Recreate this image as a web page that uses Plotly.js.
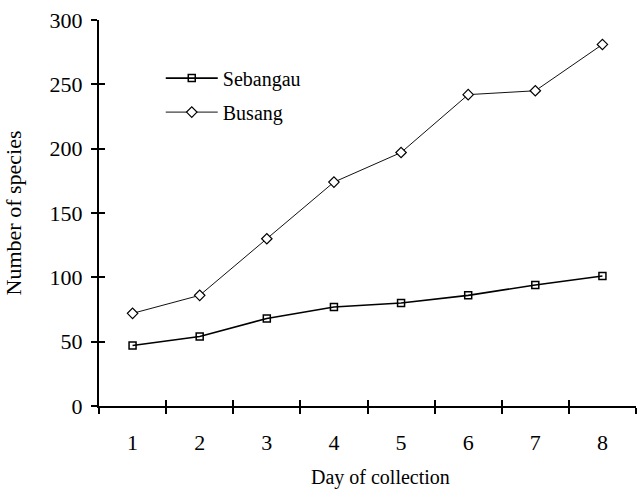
<!DOCTYPE html>
<html>
<head>
<meta charset="utf-8">
<script src="https://cdn.plot.ly/plotly-3.0.1.min.js"></script>
<style>html,body{margin:0;padding:0;background:#fff}#chart{width:639px;height:491px}</style>
</head>
<body>
<div id="chart"></div>
<script>
const days = [1, 2, 3, 4, 5, 6, 7, 8];
const sebangau = [47, 54, 68, 77, 80, 86, 94, 101];
const busang = [72, 86, 130, 174, 197, 242, 245, 281];
const yTicks = [0, 50, 100, 150, 200, 250, 300];
const xTitle = 'Day of collection';
const yTitle = 'Number of species';

const FONT = 'Liberation Serif, Times New Roman, serif';

const traces = [
  {
    x: days, y: sebangau, name: 'Sebangau', mode: 'lines+markers',
    legendgroup: 'a',
    line: {color: '#000', width: 1.6},
    marker: {symbol: 'square-open', size: 7, color: '#000', line: {width: 1.5, color: '#000'}}
  },
  {
    x: days, y: busang, name: 'Busang', mode: 'lines+markers',
    legendgroup: 'b',
    line: {color: '#111', width: 1},
    marker: {symbol: 'diamond', size: 8, color: '#fff', line: {width: 1.2, color: '#000'}}
  },
  {
    x: days, y: sebangau, xaxis: 'x2', yaxis: 'y2', showlegend: false,
    mode: 'markers', marker: {opacity: 0}, hoverinfo: 'skip'
  }
];

const layout = {
  width: 639, height: 491,
  margin: {l: 99, r: 3, t: 20, b: 85},
  paper_bgcolor: '#fff', plot_bgcolor: '#fff',
  font: {family: FONT, size: 22, color: '#000'},
  showlegend: true,
  legend: {
    x: 0.115, y: 0.9, xanchor: 'left', yanchor: 'top',
    bgcolor: 'rgba(0,0,0,0)', borderwidth: 0,
    font: {family: FONT, size: 20, color: '#000'},
    traceorder: 'grouped', tracegroupgap: 5, itemwidth: 52
  },
  xaxis: {
    range: [0.5, 8.5], tickvals: days, ticktext: days.map(String),
    ticks: '', showgrid: false, zeroline: false,
    showline: true, linecolor: '#000', linewidth: 2,
    ticklabelstandoff: 16,
    tickfont: {family: FONT, size: 22},
    minor: {tick0: 0.5, dtick: 1, ticks: 'outside', ticklen: 6, tickwidth: 2, tickcolor: '#000', showgrid: false}
  },
  yaxis: {
    range: [0, 300], tickvals: yTicks, ticktext: yTicks.map(String),
    ticks: 'outside', ticklen: 6, tickwidth: 2, tickcolor: '#000',
    showgrid: false, zeroline: false,
    showline: true, linecolor: '#000', linewidth: 2,
    ticklabelstandoff: 4,
    tickfont: {family: FONT, size: 22},
    title: {text: yTitle, font: {family: FONT, size: 22}, standoff: 22}
  },
  xaxis2: {
    overlaying: 'x', anchor: 'y2', range: [0.5, 8.5], showticklabels: false,
    tickvals: [0.5, 1.5, 2.5, 3.5, 4.5, 5.5, 6.5, 7.5, 8.5],
    ticks: 'inside', ticklen: 6, tickwidth: 2, tickcolor: '#000',
    showgrid: false, zeroline: false, showline: false
  },
  yaxis2: {
    overlaying: 'y', anchor: 'x2', range: [0, 300], showticklabels: false,
    tickvals: yTicks, ticks: 'inside', ticklen: 6, tickwidth: 2, tickcolor: '#000',
    showgrid: false, zeroline: false, showline: false
  },
  annotations: [
    {text: xTitle, xref: 'paper', yref: 'paper', x: 0.525, y: -0.184, xanchor: 'center', yanchor: 'middle',
     showarrow: false, font: {family: FONT, size: 20, color: '#000'}}
  ]
};

Plotly.newPlot('chart', traces, layout, {displayModeBar: false, staticPlot: true});
</script>
</body>
</html>
